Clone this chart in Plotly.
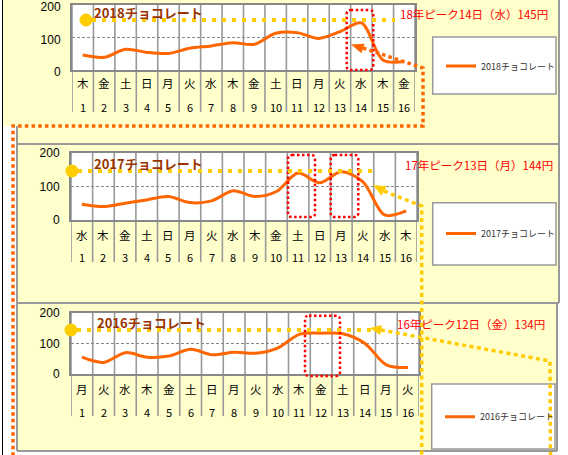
import plotly.graph_objects as go

W, H = 568, 455

# ---------------- data ----------------
days = list(range(1, 17))
dow_2018 = list("木金土日月火水木金土日月火水木金")
dow_2017 = list("水木金土日月火水木金土日月火水木")
dow_2016 = list("月火水木金土日月火水木金土日月火")
choco_2018 = [46, 39, 64, 54, 51, 67, 74, 84, 79, 113, 115, 97, 118, 145, 31, 26]
choco_2017 = [47, 40, 50, 60, 70, 52, 57, 87, 70, 85, 140, 111, 144, 114, 15, 27]
choco_2016 = [55, 38, 70, 55, 59, 81, 63, 71, 68, 85, 130, 134, 132, 101, 30, 21]
series_names = ["2018チョコレート", "2017チョコレート", "2016チョコレート"]
peak_labels = ["18年ピーク14日（水）145円", "17年ピーク13日（月）144円", "16年ピーク12日（金）134円"]
y_ticks = [0, 100, 200]

values = [choco_2018, choco_2017, choco_2016]
dows = [dow_2018, dow_2017, dow_2016]

# ---------------- layout geometry (pixels) ----------------
panels = [
    dict(x0=72, x1=415, top=5, bottom=70, dow_y=83, num_y=107, grid_bottom=112, tshift=2,
         title=(92, 12.5), peak=(398, 14), legend_box=(432.7, 37, 556, 94), legend_line=(441, 66)),
    dict(x0=71, x1=417, top=153, bottom=220, dow_y=235, num_y=257, grid_bottom=262, tshift=0,
         title=(92, 163.5), peak=(403, 165), legend_box=(432.7, 202.7, 556, 265), legend_line=(441, 233.5)),
    dict(x0=71, x1=419, top=313, bottom=374, dow_y=389, num_y=412, grid_bottom=416, tshift=0,
         title=(95, 322.5), peak=(395, 323.5), legend_box=(431.7, 384, 555, 449), legend_line=(440, 416.7)),
]

YELLOW = "#FFFFCC"
GRAY = "#999999"
ORANGE = "#FF6600"
GOLD = "#FFCC00"
RED = "#FF0000"
JP = "Noto Sans CJK JP"


def px(x):
    return x / W


def py(y):
    return 1 - y / H


def poly(points):
    s = "M" + " L".join(f"{px(x):.5f},{py(y):.5f}" for x, y in points)
    return s


def rrect(x0, y0, x1, y1, r=4):
    rx, ry = r / W, r / H
    X0, X1, Y0, Y1 = px(x0), px(x1), py(y0), py(y1)
    return (f"M{X0+rx},{Y0} L{X1-rx},{Y0} Q{X1},{Y0} {X1},{Y0-ry} "
            f"L{X1},{Y1+ry} Q{X1},{Y1} {X1-rx},{Y1} L{X0+rx},{Y1} "
            f"Q{X0},{Y1} {X0},{Y1+ry} L{X0},{Y0-ry} Q{X0},{Y0} {X0+rx},{Y0} Z")


def arrowhead(tip, base, half=4.5):
    tx, ty = tip
    bx, by = base
    dx, dy = bx - tx, by - ty
    n = (dx * dx + dy * dy) ** 0.5
    ux, uy = -dy / n, dx / n
    p1 = (bx + ux * half, by + uy * half)
    p2 = (bx - ux * half, by - uy * half)
    return poly([tip, p1, p2]) + " Z"


fig = go.Figure()
shapes = []
annotations = []

# background panels
shapes.append(dict(type="rect", xref="paper", yref="paper", layer="below",
                   x0=px(3), x1=px(559), y0=py(126), y1=py(0), fillcolor=YELLOW, line=dict(width=0)))
shapes.append(dict(type="rect", xref="paper", yref="paper", layer="below",
                   x0=px(17), x1=px(559), y0=py(303), y1=py(126), fillcolor=YELLOW, line=dict(width=0)))
shapes.append(dict(type="rect", xref="paper", yref="paper", layer="below",
                   x0=px(17), x1=px(557), y0=py(451), y1=py(303), fillcolor=YELLOW, line=dict(width=0)))
# black left line
shapes.append(dict(type="line", xref="paper", yref="paper", layer="below",
                   x0=px(2.5), x1=px(2.5), y0=0, y1=1, line=dict(color="#000000", width=1)))
# panel borders
for (a, b, c, d) in [(559, 0, 559, 303), (17, 144, 559, 144), (17, 126, 17, 451),
                     (17, 303, 559, 303), (557, 303, 557, 451), (17, 451, 557, 451)]:
    shapes.append(dict(type="line", xref="paper", yref="paper", layer="below",
                       x0=px(a), y0=py(b), x1=px(c), y1=py(d), line=dict(color=GRAY, width=2)))

for k, p in enumerate(panels):
    ax = "" if k == 0 else str(k + 1)
    xa, ya = "x" + ax, "y" + ax
    # white plot background
    shapes.append(dict(type="rect", xref="paper", yref="paper", layer="below",
                       x0=px(p["x0"]), x1=px(p["x1"]), y0=py(p["bottom"]), y1=py(p["top"]),
                       fillcolor="white", line=dict(width=0)))
    # vertical grid through plot and table
    for d in range(0, 17):
        shapes.append(dict(type="line", xref=xa, yref="paper", layer="below",
                           x0=d + 0.5, x1=d + 0.5, y0=py(p["grid_bottom"]), y1=py(p["top"]),
                           line=dict(color=GRAY, width=1.6)))

    fig.add_trace(go.Scatter(
        x=days, y=values[k], mode="lines", name=series_names[k],
        line=dict(color=ORANGE, width=3, shape="spline", smoothing=0.9),
        xaxis=xa, yaxis=ya, legend="legend" + ("" if k == 0 else str(k + 1)),
        hoverinfo="skip"))

    fig.layout["xaxis" + ax] = dict(
        domain=[px(p["x0"]), px(p["x1"])], range=[0.5, 16.5], anchor=ya,
        showticklabels=False, showgrid=False, zeroline=False, ticks="",
        showline=True, mirror=True, linecolor="#888888", linewidth=2, fixedrange=True)
    fig.layout["yaxis" + ax] = dict(
        domain=[py(p["bottom"]), py(p["top"])], range=[0, 200], anchor=xa,
        tickvals=y_ticks, ticks="outside", ticklen=7, tickcolor="rgba(0,0,0,0)",
        tickfont=dict(family="Liberation Sans", size=12, color="#000000"),
        ticklabeloverflow="allow", ticklabelshift=p["tshift"],
        showgrid=True, gridcolor="#888888", gridwidth=1, griddash="3px,2px",
        zeroline=False, showline=True, mirror=True, linecolor="#888888", linewidth=2,
        automargin=False, fixedrange=True)

    # table labels
    for i, d in enumerate(days):
        annotations.append(dict(x=d, xref=xa, y=py(p["dow_y"]), yref="paper", text=dows[k][i],
                                xanchor="center", yanchor="middle",
                                showarrow=False, font=dict(family=JP, size=11.5, color="#000000")))
        annotations.append(dict(x=d, xref=xa, y=py(p["num_y"]), yref="paper", text=str(d),
                                xanchor="center", yanchor="middle",
                                showarrow=False, font=dict(family=JP, size=11, color="#000000")))

    # title
    tx, ty = p["title"]
    annotations.append(dict(x=px(tx), y=py(ty), xref="paper", yref="paper", xanchor="left",
                            yanchor="middle", text="<b>" + series_names[k] + "</b>", showarrow=False,
                            font=dict(family=JP, size=13, color="#993300")))
    # peak label
    kx, ky = p["peak"]
    annotations.append(dict(x=px(kx), y=py(ky), xref="paper", yref="paper", xanchor="left",
                            yanchor="middle", text=peak_labels[k], showarrow=False,
                            font=dict(family=JP, size=11.5, color=RED)))
    # legend box
    bx0, by0, bx1, by1 = p["legend_box"]
    shapes.append(dict(type="rect", xref="paper", yref="paper", layer="below",
                       x0=px(bx0), x1=px(bx1), y0=py(by1), y1=py(by0),
                       fillcolor="white", line=dict(color=GRAY, width=1.5)))
    lx, ly = p["legend_line"]
    fig.layout["legend" + ("" if k == 0 else str(k + 1))] = dict(
        x=px(lx), y=py(ly), xanchor="left", yanchor="middle", bgcolor="rgba(0,0,0,0)",
        borderwidth=0, font=dict(family=JP, size=9, color="#333333"), itemwidth=30)

# ---- decorations above ----
# red dotted boxes
for (a, b, c, d) in [(346.7, 10, 373.3, 70), (288, 155, 315, 217), (330.7, 155, 358.3, 217),
                     (305, 315.7, 340, 376)]:
    shapes.append(dict(type="path", xref="paper", yref="paper", path=rrect(a, b, c, d),
                       line=dict(color=RED, width=2.5, dash="2.5px,2.5px")))

# gold dotted horizontal lines + circles
for (cx, cy, xend) in [(86, 20, 395), (72, 171, 372), (71, 330, 377)]:
    shapes.append(dict(type="line", xref="paper", yref="paper", x0=px(cx + 6), x1=px(xend),
                       y0=py(cy), y1=py(cy), line=dict(color=GOLD, width=4, dash="4px,6px")))
    shapes.append(dict(type="circle", xref="paper", yref="paper", x0=px(cx - 6.5), x1=px(cx + 6.5),
                       y0=py(cy + 6.5), y1=py(cy - 6.5), fillcolor=GOLD, line=dict(width=0)))

# orange dotted connector (top)
shapes.append(dict(type="path", xref="paper", yref="paper",
                   path=poly([(363, 48), (423, 68), (423, 126), (13, 126), (13, 456)]),
                   line=dict(color=ORANGE, width=3.5, dash="3.5px,3.2px")))
shapes.append(dict(type="path", xref="paper", yref="paper", path=arrowhead((351, 44.5), (363, 48.5), 5),
                   fillcolor=ORANGE, line=dict(width=0)))

# gold dotted connector (middle)
shapes.append(dict(type="path", xref="paper", yref="paper",
                   path=poly([(384, 191), (421.7, 206), (421.7, 456)]),
                   line=dict(color=GOLD, width=3.5, dash="4px,3.5px")))
shapes.append(dict(type="path", xref="paper", yref="paper", path=arrowhead((373, 185), (384, 191), 5.5),
                   fillcolor=GOLD, line=dict(width=0)))

# gold dotted connector (bottom)
shapes.append(dict(type="path", xref="paper", yref="paper",
                   path=poly([(381, 330), (550, 361), (550.5, 456)]),
                   line=dict(color=GOLD, width=3.5, dash="4px,3.5px")))
shapes.append(dict(type="path", xref="paper", yref="paper", path=arrowhead((370, 328), (381, 330), 5),
                   fillcolor=GOLD, line=dict(width=0)))

fig.update_layout(
    width=W, height=H, autosize=False,
    margin=dict(l=0, r=0, t=0, b=0),
    paper_bgcolor="white", plot_bgcolor="white",
    shapes=shapes, annotations=annotations,
    showlegend=True,
)

fig.write_html("out.html", config=dict(displayModeBar=False, staticPlot=True),
               post_script="document.body.style.margin='0px';document.body.style.overflow='hidden';")
